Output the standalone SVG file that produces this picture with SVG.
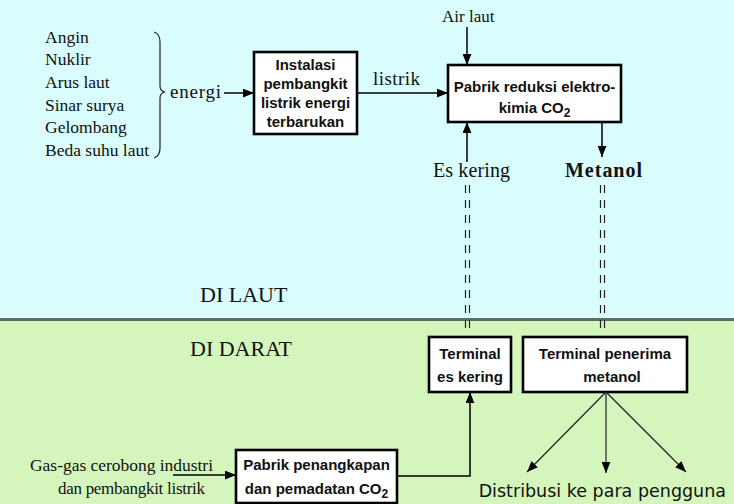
<svg xmlns="http://www.w3.org/2000/svg" width="734" height="504" viewBox="0 0 734 504">
<defs>
<marker id="ah" viewBox="0 0 10 8" refX="10" refY="4" markerWidth="11" markerHeight="9" markerUnits="userSpaceOnUse" orient="auto">
<path d="M0,0 L10,4 L0,8 Z" fill="#000"/>
</marker>
<style>
.serif{font-family:"Liberation Serif","Times New Roman",serif;fill:#111}
.bx{fill:#fff;stroke:#000;stroke-width:2.6}
.bt{font-family:"Liberation Sans",Arial,sans-serif;font-weight:bold;font-size:15px;fill:#111;text-anchor:middle}
.ar{fill:none;stroke:#000;stroke-width:1.5;marker-end:url(#ah)}
.thin{fill:none;stroke:#222;stroke-width:1.2;marker-end:url(#ah)}
.dash{fill:none;stroke:#222;stroke-width:1.2;stroke-dasharray:8 7}
</style>
</defs>
<rect x="0" y="0" width="734" height="319" fill="#d9fcfd"/>
<rect x="0" y="319" width="734" height="185" fill="#d4f6bd"/>
<line x1="0" y1="319.5" x2="734" y2="319.5" stroke="#5e6e60" stroke-width="3"/>

<g id="sources">
<text class="serif" font-size="17.5" x="45" y="43">Angin</text>
<text class="serif" font-size="17.5" x="45" y="65">Nuklir</text>
<text class="serif" font-size="17.5" x="45" y="88">Arus laut</text>
<text class="serif" font-size="17.5" x="45" y="111">Sinar surya</text>
<text class="serif" font-size="17.5" x="45" y="133">Gelombang</text>
<text class="serif" font-size="17.5" x="45" y="156">Beda suhu laut</text>
<path d="M154,32 Q160,34 160,42 L160,86 Q160,91 165,92 Q160,93 160,98 L160,148 Q160,156 154,158" fill="none" stroke="#222" stroke-width="1.2"/>
</g>

<g id="labels" class="serif">
<text font-size="19" x="170" y="98" textLength="51">energi</text>
<text font-size="19" x="373" y="85" textLength="47">listrik</text>
<text font-size="17" x="442" y="22">Air laut</text>
<text font-size="20" x="433" y="177" textLength="77">Es kering</text>
<text font-size="20" font-weight="bold" x="565" y="177" textLength="77">Metanol</text>
<text font-size="22" x="200" y="302">DI LAUT</text>
<text font-size="22" x="190" y="356">DI DARAT</text>
<text font-size="17.5" x="30" y="471" textLength="183">Gas-gas cerobong industri</text>
<text font-size="17" x="58" y="494" textLength="147">dan pembangkit listrik</text>
<text x="726" y="497" text-anchor="end" style="font-family:'DejaVu Sans',Verdana,sans-serif;font-size:17.5px;fill:#111">Distribusi ke para pengguna</text>
</g>

<g id="instalasi">
<rect class="bx" x="254" y="52" width="103" height="82"/>
<text class="bt" font-size="14.5" x="305.5" y="70">Instalasi</text>
<text class="bt" font-size="14.5" x="305.5" y="89">pembangkit</text>
<text class="bt" font-size="14.5" x="305.5" y="108">listrik energi</text>
<text class="bt" font-size="14.5" x="305.5" y="127">terbarukan</text>
</g>

<g id="pabrik-reduksi">
<rect class="bx" x="448" y="65" width="173" height="57"/>
<text class="bt" x="534.5" y="92">Pabrik reduksi elektro-</text>
<text class="bt" x="534.5" y="113">kimia CO<tspan dy="4" font-size="12">2</tspan></text>
</g>

<g id="terminal-es">
<rect class="bx" x="429" y="337" width="82" height="55"/>
<text class="bt" x="470" y="359">Terminal</text>
<text class="bt" x="470" y="382">es kering</text>
</g>

<g id="terminal-metanol">
<rect class="bx" x="523" y="337" width="164" height="55"/>
<text class="bt" x="605" y="359">Terminal penerima</text>
<text class="bt" x="612" y="382">metanol</text>
</g>

<g id="pabrik-penangkapan">
<rect class="bx" x="236" y="450" width="161" height="53"/>
<text class="bt" x="316.5" y="470">Pabrik penangkapan</text>
<text class="bt" x="316.5" y="494">dan pemadatan CO<tspan dy="4" font-size="12">2</tspan></text>
</g>

<g id="connectors">
<line class="ar" x1="224" y1="93" x2="254" y2="93"/>
<line class="ar" x1="357" y1="93" x2="448" y2="93"/>
<line class="ar" x1="467" y1="27" x2="467" y2="65"/>
<line class="ar" x1="467" y1="162" x2="467" y2="122"/>
<line class="ar" x1="602" y1="122" x2="602" y2="157"/>
<line class="dash" x1="465.5" y1="185" x2="465.5" y2="333"/>
<line class="dash" x1="469.5" y1="185" x2="469.5" y2="333"/>
<line class="dash" x1="600.5" y1="185" x2="600.5" y2="333"/>
<line class="dash" x1="604.5" y1="185" x2="604.5" y2="333"/>
<line class="ar" x1="173" y1="475" x2="236" y2="475"/>
<polyline class="ar" points="397,476 470,476 470,392"/>
<line class="thin" x1="606" y1="392" x2="527" y2="472"/>
<line class="thin" x1="606" y1="392" x2="606" y2="473"/>
<line class="thin" x1="606" y1="392" x2="686" y2="472"/>
</g>
</svg>
